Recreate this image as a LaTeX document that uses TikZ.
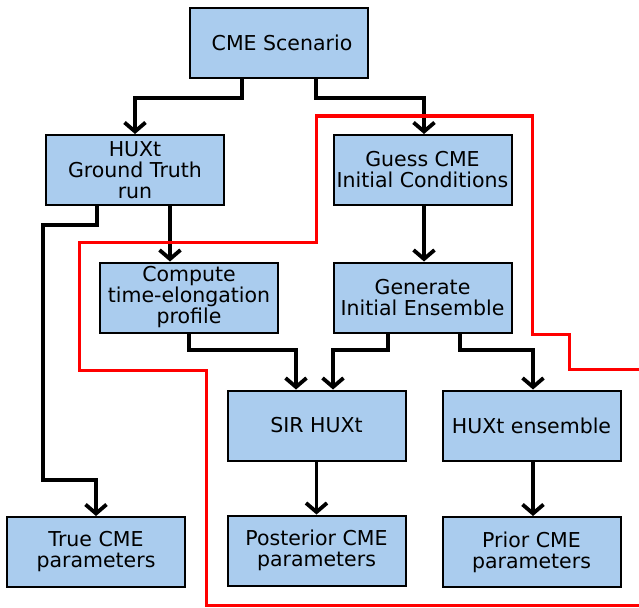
\documentclass[tikz,border=0pt]{standalone}
\usepackage{fontspec}
\setmainfont{DejaVu Sans}
\usetikzlibrary{positioning,arrows.meta,calc}
\definecolor{boxblue}{RGB}{170,204,238}
\tikzset{
    block/.style = {draw, rectangle, fill=boxblue, line width=2pt,
        minimum height=70pt,
        minimum width=178pt, inner sep=0pt, align=center,
        font=\fontsize{20.5}{21}\selectfont},
    arrow/.style = {draw, line width=3.8pt, -{Straight Barb[length=9pt,width=21pt]}},
    region/.style = {draw=red, line width=3pt}
}

\begin{document}
\begin{tikzpicture}[x=1pt, y=-1pt]
        \useasboundingbox (0,0) rectangle (639,607);
        \node [block] (scenario) at (279,43) {\hspace*{6pt}CME Scenario};
        \node [block] (gtrun) at (135,170) {HUXt\\Ground Truth\\run};
        \node [block] (guess) at (422.5,170) {Guess CME\\Initial Conditions};
        \node [block, below of=gtrun, node distance=127.5pt, xshift=54pt] (profile) {Compute\\time-elongation\\profile};
        \node [block, below of=guess, node distance=127.5pt] (generate) {Generate\\Initial Ensemble};
        \node [block] (sir) at (316.5,425.5) {SIR HUXt};
        \node [block, right of=sir, node distance=215pt] (ensemble) {HUXt ensemble};
        \node [block] (truecme) at (96,552) {True CME\\parameters};
        \node [block, below of=sir, node distance=125pt] (posterior) {Posterior CME\\parameters};
        \node [block, below of=ensemble, node distance=126.5pt] (prior) {Prior CME\\parameters};
        % connectors
        \draw [arrow] ([xshift=-37pt]scenario.south) |- (135,98) -- (gtrun.north);
        \draw [arrow] ([xshift=37pt]scenario.south) |- (424,98) -- ([xshift=1.5pt]guess.north);
        \draw [arrow] ([xshift=-38pt]gtrun.south) |- (43,225) -- (43,480) -| (truecme.north);
        \draw [arrow] ([xshift=35pt]gtrun.south) -- ([xshift=-19pt]profile.north);
        \draw [arrow] ([xshift=1.5pt]guess.south) -- ([xshift=1.5pt]generate.north);
        \draw [arrow] (profile.south) |- (296,350) -- ([xshift=-20.5pt]sir.north);
        \draw [arrow] ([xshift=-34.5pt]generate.south) |- (333,350) -- ([xshift=16.5pt]sir.north);
        \draw [arrow] ([xshift=37.5pt]generate.south) |- (533,350) -- ([xshift=1.5pt]ensemble.north);
        \draw [arrow] (sir.south) -- (posterior.north);
        \draw [arrow] ([xshift=1.5pt]ensemble.south) -- ([xshift=1.5pt]prior.north);
        % assimilation region
        \draw [region] (639,369) -- (569,369) -- (569,334) -- (532,334) -- (532,116) -- (316,116)
            -- (316,242) -- (79,242) -- (79,370) -- (206,370) -- (206,605) -- (639,605);
\end{tikzpicture}
\end{document}
